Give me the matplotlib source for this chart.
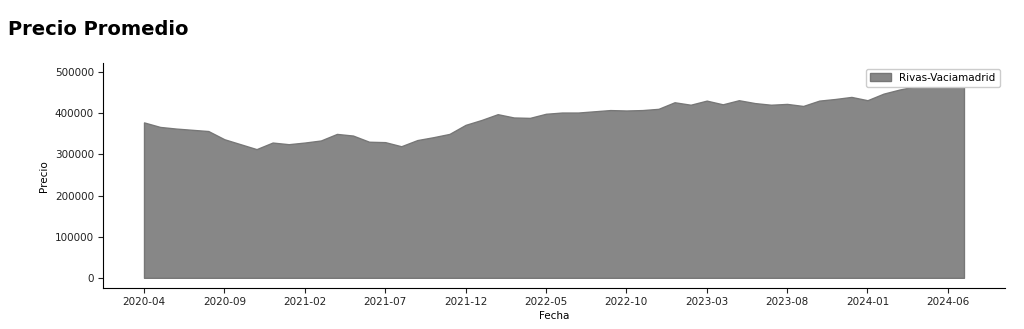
import matplotlib
matplotlib.use("Agg")
import matplotlib.pyplot as plt
import numpy as np
import pandas as pd

# Precio medio mensual, Rivas-Vaciamadrid (2020-04 .. 2024-07)
inicio = "2020-04"
municipio = "Rivas-Vaciamadrid"
precio = [378000, 367000, 363000, 360000, 357000,
          337000, 325000, 313000, 329000, 325000,
          329000, 334000, 350000, 346000, 331000,
          330000, 320000, 335000, 342000, 350000,
          372000, 384000, 398000, 390000, 389000,
          399000, 402000, 402000, 405000, 408000,
          407000, 408000, 411000, 427000, 421000,
          431000, 422000, 432000, 425000, 421000,
          423000, 418000, 431000, 435000, 440000,
          432000, 448000, 458000, 466000, 478000,
          490000, 497000]
paso_ticks = 5

fechas = pd.period_range(inicio, periods=len(precio), freq="M").strftime("%Y-%m")
x = np.arange(len(precio))

fig = plt.figure(figsize=(10.24, 3.29), dpi=100)
ax = fig.add_axes([0.1006, 0.1246, 0.8808, 0.683])

ax.fill_between(x, precio, 0, facecolor="#878787", edgecolor="#777777",
                linewidth=1, label=municipio)

ax.set_xticks(x[::paso_ticks])
ax.set_xticklabels(fechas[::paso_ticks])
ax.tick_params(labelsize=7.5, colors="#222222", length=3.5, pad=3)
ax.set_xlabel("Fecha", fontsize=7.5, labelpad=2.5)
ax.set_ylabel("Precio", fontsize=7.5)

for s in ["top", "right"]:
    ax.spines[s].set_visible(False)

ax.legend(loc="upper right", fontsize=7.5, framealpha=1)

# titulo fuera del area de ejes
fig.text(0.008, 0.895, "Precio Promedio", fontsize=14, fontweight="bold",
         family=["DejaVu Sans"])

fig.savefig("out.png", dpi=100)
